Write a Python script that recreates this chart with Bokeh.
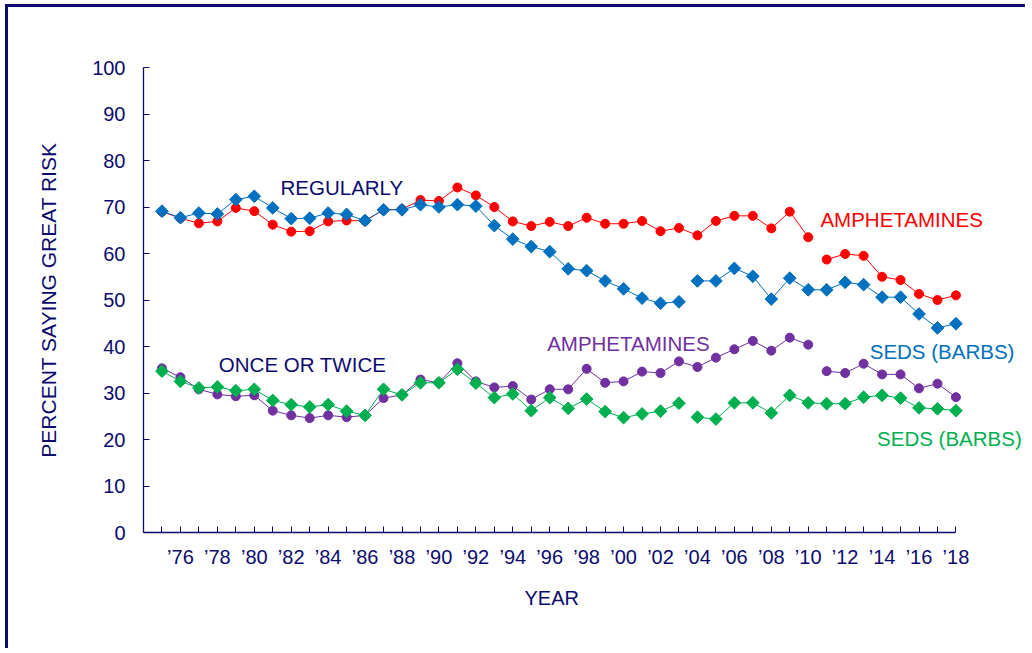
import numpy as np
from bokeh.plotting import figure
from bokeh.models import Range1d, FixedTicker, Title
from bokeh.core.properties import value
from bokeh.embed import file_html
from bokeh.resources import INLINE

# ---------------- data ----------------
years = list(range(1975, 2019))

amph_regularly = [69.0, 67.6, 66.5, 66.9, 69.8, 69.1, 66.2, 64.7, 64.8, 66.9,
                  67.1, 67.0, 69.4, 69.5, 71.5, 71.3, 74.2, 72.5, 70.0, 66.9,
                  65.9, 66.8, 65.9, 67.7, 66.4, 66.4, 67.0, 64.8, 65.5, 63.9,
                  67.0, 68.1, 68.1, 65.4, 69.0, 63.5, 58.7, 59.9, 59.5, 55.0,
                  54.3, 51.3, 50.0, 51.0]

seds_regularly = [69.1, 67.7, 68.7, 68.5, 71.6, 72.3, 69.8, 67.5, 67.6, 68.7,
                  68.4, 67.1, 69.4, 69.4, 70.5, 70.0, 70.5, 70.2, 66.0, 63.1,
                  61.5, 60.4, 56.7, 56.3, 54.1, 52.4, 50.4, 49.3, 49.6, 54.1,
                  54.1, 56.8, 55.1, 50.2, 54.7, 52.2, 52.2, 53.8, 53.3, 50.6,
                  50.6, 47.0, 44.0, 44.9]

amph_once = [35.3, 33.4, 30.8, 29.7, 29.3, 29.5, 26.2, 25.2, 24.6, 25.2,
             24.8, 25.2, 28.9, 29.6, 32.9, 32.2, 36.4, 32.5, 31.2, 31.5,
             28.6, 30.8, 30.8, 35.2, 32.2, 32.5, 34.6, 34.3, 36.8, 35.6,
             37.6, 39.4, 41.2, 39.1, 41.9, 40.4, 34.7, 34.3, 36.3, 34.0,
             34.0, 31.0, 32.0, 29.1]

seds_once = [34.7, 32.5, 31.1, 31.3, 30.5, 30.8, 28.4, 27.5, 27.0, 27.5,
             26.1, 25.2, 30.8, 29.6, 32.2, 32.2, 35.1, 32.1, 29.0, 29.8,
             26.2, 29.0, 26.7, 28.7, 26.0, 24.7, 25.5, 26.1, 27.8, 24.8,
             24.4, 27.9, 27.9, 25.7, 29.5, 27.9, 27.7, 27.7, 29.1, 29.5,
             28.9, 26.8, 26.6, 26.2]

# last year before a question-wording change (line is broken after it)
amph_break_year = 2010
seds_break_year = 2003

x_tick_years = list(range(1976, 2019, 2))
x_minor_years = list(range(1975, 2018, 2))
x_tick_labels = ["\u2019%02d" % (y % 100) for y in x_tick_years]
y_ticks = list(range(0, 101, 10))

series_labels = ["REGULARLY", "AMPHETAMINES", "SEDS (BARBS)",
                 "ONCE OR TWICE", "AMPHETAMINES", "SEDS (BARBS)"]

# ---------------- styling ----------------
NAVY = "#0B0B6E"
RED = "#FF0000"
BLUE = "#0070C0"
PURPLE = "#7030A0"
GREEN = "#00B050"
FONT = "Liberation Sans"

p = figure(width=1020, height=644, output_backend="svg", toolbar_location=None,
           x_range=Range1d(1974, 2021.93), y_range=Range1d(0, 100),
           min_border_left=135, min_border_top=60, min_border_bottom=119,
           min_border_right=0)
p.styles = {"border-top": "3px solid " + NAVY, "border-left": "3px solid " + NAVY,
            "margin-left": "5px", "margin-top": "4px"}
p.outline_line_color = None
p.xgrid.grid_line_color = None
p.ygrid.grid_line_color = None
p.background_fill_color = "white"
p.border_fill_color = "white"

# axes
p.xaxis.ticker = FixedTicker(ticks=x_tick_years, minor_ticks=x_minor_years)
p.xaxis.major_label_overrides = {y: l for y, l in zip(x_tick_years, x_tick_labels)}
p.xaxis.bounds = (1974, 2018)
p.yaxis.ticker = FixedTicker(ticks=y_ticks)
p.yaxis.bounds = (0, 100)
for ax in (p.xaxis, p.yaxis):
    ax.axis_line_color = NAVY
    ax.axis_line_width = 1.3
    ax.major_tick_line_color = NAVY
    ax.minor_tick_line_color = NAVY
    ax.major_tick_in = 6
    ax.major_tick_out = 0
    ax.minor_tick_in = 6
    ax.minor_tick_out = 0
    ax.major_label_text_color = NAVY
    ax.major_label_text_font = FONT
    ax.major_label_text_font_size = "20px"
    ax.axis_label_text_color = NAVY
    ax.axis_label_text_font = FONT
    ax.axis_label_text_font_size = "21px"
    ax.axis_label_text_font_style = "normal"
p.yaxis.minor_tick_line_color = None
p.yaxis.major_label_standoff = 18
p.xaxis.major_label_standoff = 13
p.yaxis.axis_label = "PERCENT SAYING GREAT RISK"
p.yaxis.axis_label_standoff = 29

# x-axis title, centred under the drawn axis (1974-2018)
p.add_layout(Title(text="YEAR", align="left", offset=381, standoff=28,
                   text_color=NAVY, text_font=FONT, text_font_size="20px",
                   text_font_style="normal"), "below")

# ---------------- series ----------------
yrs = np.array(years)


def draw_lines(vals, color, brk):
    v = np.array(vals, dtype=float)
    for m in (yrs <= brk, yrs > brk):
        if m.sum() > 0:
            p.line(yrs[m], v[m], line_color=color, line_width=1)


draw_lines(amph_regularly, RED, amph_break_year)
draw_lines(seds_regularly, BLUE, seds_break_year)
draw_lines(amph_once, PURPLE, amph_break_year)
draw_lines(seds_once, GREEN, seds_break_year)

p.scatter(years, amph_regularly, marker="circle", size=9,
          fill_color=RED, line_color=RED)
p.scatter(years, seds_regularly, marker="square", angle=np.pi / 4, size=9,
          fill_color=BLUE, line_color=BLUE)
p.scatter(years, amph_once, marker="circle", size=9,
          fill_color=PURPLE, line_color=PURPLE)
p.scatter(years, seds_once, marker="square", angle=np.pi / 4, size=9,
          fill_color=GREEN, line_color=GREEN)

# series labels
lab_x = [1981.42, 2010.66, 2013.33, 1978.08, 1995.86, 2013.73]
lab_y = [74.09, 67.35, 39.03, 36.06, 40.75, 20.32]
lab_c = [NAVY, RED, BLUE, NAVY, PURPLE, GREEN]
p.text(x=lab_x, y=lab_y, text=series_labels, text_color=lab_c,
       text_font=value(FONT), text_font_size=value("20.5px"),
       text_align="left", text_baseline="middle")

open("out.html", "w").write(file_html(p, INLINE))
